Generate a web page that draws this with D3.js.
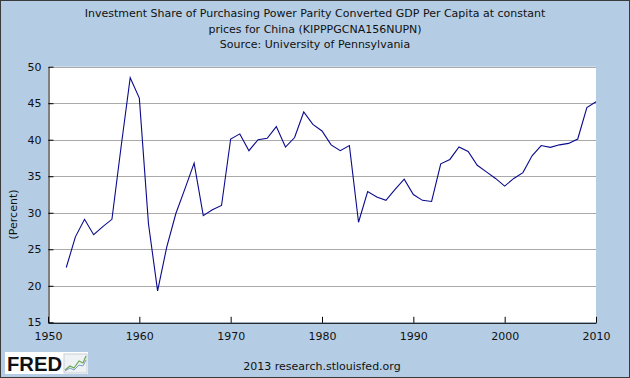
<!DOCTYPE html>
<html>
<head>
<meta charset="utf-8">
<script src="https://cdn.jsdelivr.net/npm/d3@7"></script>
<style>
  body { margin: 0; padding: 0; background: #fff; }
  svg { display: block; }
  text { font-family: "DejaVu Sans", Verdana, sans-serif; fill: #111; }
</style>
</head>
<body>
<svg id="chart" width="630" height="378"></svg>
<script>
// values
var years = [1952,1953,1954,1955,1956,1957,1958,1959,1960,1961,
             1962,1963,1964,1965,1966,1967,1968,1969,1970,1971,
             1972,1973,1974,1975,1976,1977,1978,1979,1980,1981,
             1982,1983,1984,1985,1986,1987,1988,1989,1990,1991,
             1992,1993,1994,1995,1996,1997,1998,1999,2000,2001,
             2002,2003,2004,2005,2006,2007,2008,2009,2010];
var share = [22.5,26.7,29.1,27.0,28.1,29.1,39.0,48.5,45.7,28.5,
             19.3,25.3,29.9,33.3,36.8,29.6,30.4,31.0,40.1,40.8,
             38.5,40.0,40.2,41.8,39.0,40.3,43.8,42.1,41.2,39.3,
             38.5,39.2,28.7,32.9,32.15,31.7,33.2,34.6,32.5,31.7,
             31.55,36.7,37.3,39.0,38.4,36.5,35.6,34.7,33.65,34.7,
             35.5,37.8,39.2,38.95,39.3,39.5,40.1,44.4,45.2];
var xTicks = [1950,1960,1970,1980,1990,2000,2010];
var yTicks = [15,20,25,30,35,40,45,50];
var titleLines = [
  "Investment Share of Purchasing Power Parity Converted GDP Per Capita at constant",
  "prices for China (KIPPPGCNA156NUPN)",
  "Source: University of Pennsylvania"
];

var svg = d3.select("#chart");
var W = 630, H = 378;
var pL = 48, pR = 596, pT = 66.7, pB = 322.3;

// background + frame
svg.append("rect").attr("x",0.5).attr("y",0.5).attr("width",W-1).attr("height",H-1)
   .attr("fill","#b4cde4").attr("stroke","#3a3a3a");
svg.append("rect").attr("x",pL).attr("y",pT).attr("width",pR-pL).attr("height",pB-pT)
   .attr("fill","#fff");

var x = d3.scaleLinear().domain([1950,2010]).range([pL,pR]);
var y = d3.scaleLinear().domain([15,50]).range([pB,pT]);

// title
svg.selectAll(".title").data(titleLines).enter().append("text")
   .attr("x",W/2).attr("y",function(d,i){ return 17 + i*15.5; })
   .attr("text-anchor","middle").style("font-size","11px").text(function(d){ return d; });

// gridlines
svg.selectAll(".grid").data(yTicks.slice(1)).enter().append("line")
   .attr("x1",pL).attr("x2",pR)
   .attr("y1",function(d){ return Math.round(y(d))+0.5; })
   .attr("y2",function(d){ return Math.round(y(d))+0.5; })
   .attr("stroke","#aaaaaa").attr("stroke-width",1);

// y axis: ticks pointing inward
var yAxis = d3.axisLeft(y).tickValues(yTicks).tickSizeInner(-5).tickSizeOuter(0).tickPadding(7);
var gy = svg.append("g").attr("transform","translate(" + (pL+0.5) + ",0)").call(yAxis);
gy.select(".domain").attr("stroke","#000");
gy.selectAll(".tick line").attr("stroke","#000");
gy.selectAll("text").style("font-size","11px").style("font-family","DejaVu Sans").attr("fill","#111");

// x axis: ticks pointing up
var xAxis = d3.axisBottom(x).tickValues(xTicks).tickFormat(d3.format("d"))
   .tickSizeInner(-6).tickSizeOuter(0).tickPadding(9);
var gx = svg.append("g").attr("transform","translate(0," + (pB+0.5) + ")").call(xAxis);
gx.select(".domain").attr("stroke","#000");
gx.selectAll(".tick line").attr("stroke","#000");
gx.selectAll("text").style("font-size","11px").style("font-family","DejaVu Sans").attr("fill","#111");

// y label
svg.append("text").attr("transform","translate(17," + ((pT+pB)/2 + 20) + ") rotate(-90)")
   .attr("text-anchor","middle").style("font-size","11px").text("(Percent)");

// series line
var line = d3.line().x(function(d,i){ return x(years[i]); }).y(function(d){ return y(d); });
svg.append("path").datum(share).attr("d",line)
   .attr("fill","none").attr("stroke","#0a0a8c").attr("stroke-width",1.1);

// footer
svg.append("text").attr("x",322).attr("y",370).attr("text-anchor","middle")
   .style("font-size","11px").text("2013 research.stlouisfed.org");

// FRED logo
var logo = svg.append("g");
logo.append("rect").attr("x",5).attr("y",352).attr("width",83).attr("height",22).attr("fill","#fff");
logo.append("text").attr("x",7).attr("y",371).style("font-family","Liberation Sans")
   .style("font-weight","bold").style("font-size","20px").attr("fill","#1a1a1a")
   .attr("textLength",55).attr("lengthAdjust","spacingAndGlyphs").text("FRED");
logo.append("rect").attr("x",64).attr("y",354).attr("width",23).attr("height",19)
   .attr("fill","#eef2f4").attr("stroke","#c8d0d4");
var icon = [[65,370],[70,366],[74,368],[79,361],[83,363],[86,356]];
logo.append("path").attr("d",d3.line()(icon)).attr("fill","none").attr("stroke","#6aa84f").attr("stroke-width",1.2);
var icon2 = [[65,371],[70,368],[74,370],[79,365],[83,366],[86,360]];
logo.append("path").attr("d",d3.line()(icon2)).attr("fill","none").attr("stroke","#7a9cc0").attr("stroke-width",1);
</script>
</body>
</html>
